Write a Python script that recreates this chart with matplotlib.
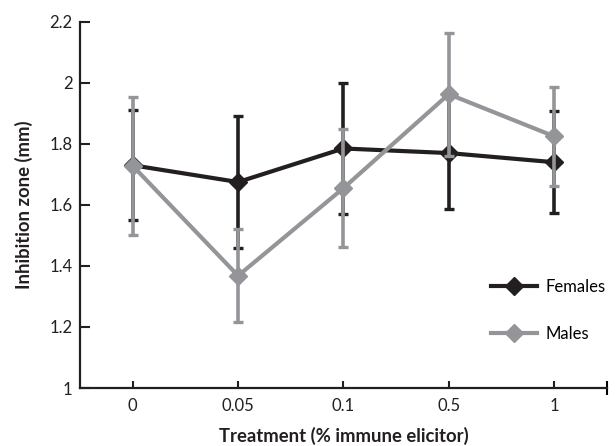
import matplotlib
matplotlib.use("Agg")
import matplotlib.pyplot as plt
from matplotlib.lines import Line2D

categories = ["0", "0.05", "0.1", "0.5", "1"]
females = [1.73, 1.675, 1.785, 1.770, 1.740]
females_err = [0.18, 0.217, 0.214, 0.183, 0.167]
males = [1.728, 1.368, 1.655, 1.963, 1.825]
males_err = [0.227, 0.152, 0.193, 0.202, 0.162]
yticks = [1, 1.2, 1.4, 1.6, 1.8, 2, 2.2]
ytick_labels = ["1", "1.2", "1.4", "1.6", "1.8", "2", "2.2"]

BLACK = "#231f20"
GREY = "#939598"

plt.rcParams['font.family'] = ['Lato', 'DejaVu Sans']

fig = plt.figure(figsize=(6.16, 4.46), dpi=100)
ax = fig.add_axes([0.13, 0.13, 0.855, 0.821])

x = list(range(len(categories)))
for vals, errs, col, lab, z in [(females, females_err, BLACK, "Females", 2),
                                (males, males_err, GREY, "Males", 3)]:
    ax.errorbar(x, vals, yerr=errs, color=col, ecolor=col, elinewidth=2.6,
                capsize=3.3, capthick=2.4, lw=3.0, marker="D", markersize=9,
                markeredgecolor=col, markerfacecolor=col, label=lab, zorder=z)

ax.set_xlim(-0.5, 4.5)
ax.set_ylim(1, 2.2)
ax.set_xticks(x)
ax.set_xticklabels(categories)
ax.set_yticks(yticks)
ax.set_yticklabels(ytick_labels)
ax.set_xticks([4.5], minor=True)
ax.tick_params(axis="x", which="major", direction="in", length=5, width=1.5,
               labelsize=12, colors=BLACK, pad=7)
ax.tick_params(axis="x", which="minor", direction="inout", length=10, width=1.5)
ax.tick_params(axis="y", direction="in", length=7, width=1.5, labelsize=12,
               colors=BLACK, pad=5.5)
for s in ["top", "right"]:
    ax.spines[s].set_visible(False)
for s in ["left", "bottom"]:
    ax.spines[s].set_linewidth(1.6)
    ax.spines[s].set_color(BLACK)

ax.set_xlabel("Treatment (% immune elicitor)", fontsize=13.3, fontweight="bold",
              color=BLACK, labelpad=9.5)
ax.set_ylabel("Inhibition zone (mm)", fontsize=13.3, fontweight="bold",
              color=BLACK, labelpad=12)

handles = [Line2D([], [], color=BLACK, lw=3, marker="D", markersize=9),
           Line2D([], [], color=GREY, lw=3, marker="D", markersize=9)]
ax.legend(handles, ["Females", "Males"], loc="upper left",
          bbox_to_anchor=(0.768, 0.316), frameon=False, fontsize=12,
          handlelength=2.75, labelspacing=1.85, handletextpad=0.5,
          borderaxespad=0)

fig.savefig("out.png", dpi=100)
